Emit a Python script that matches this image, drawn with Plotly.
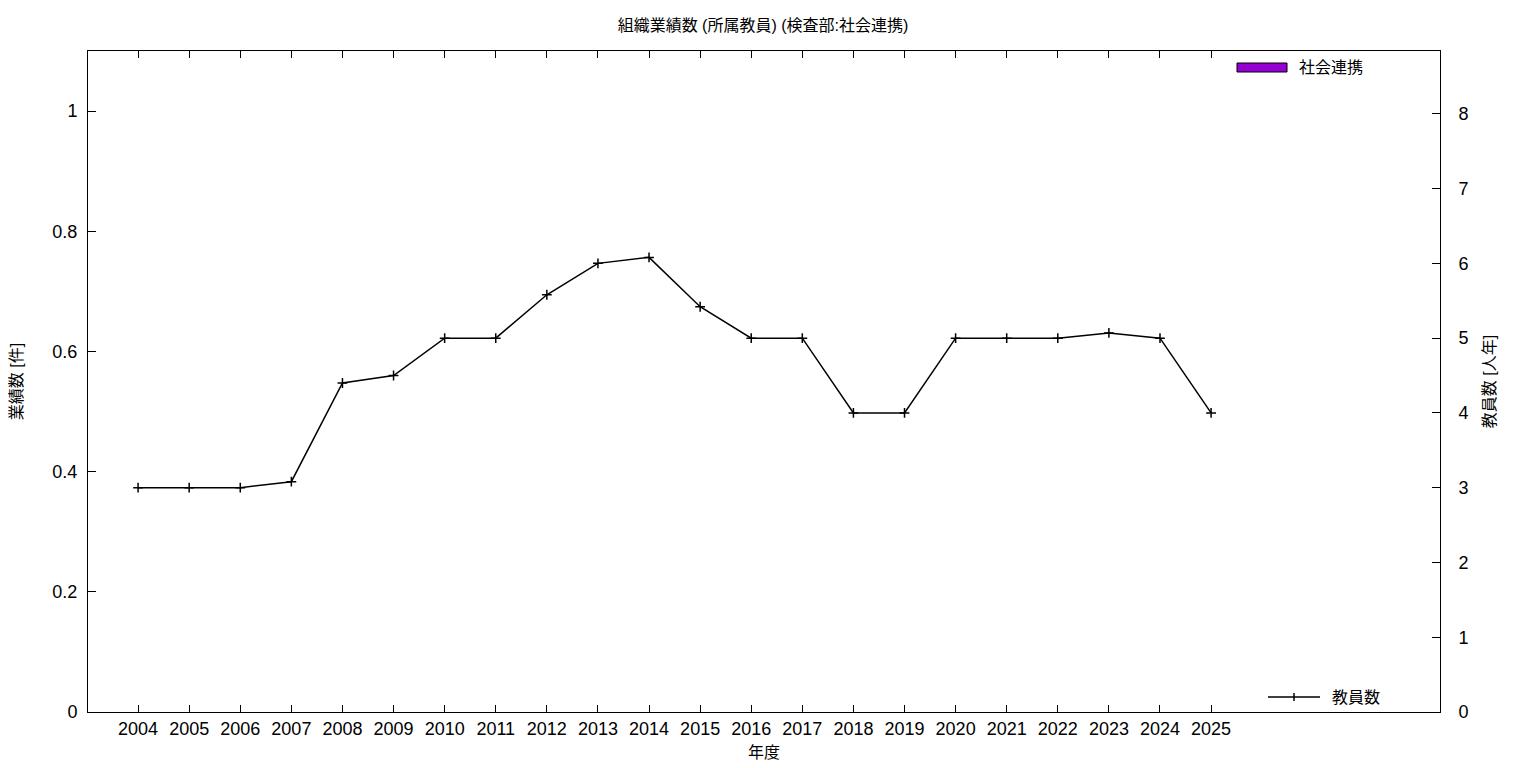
import plotly.graph_objects as go

years = list(range(2004, 2026))
faculty = [3, 3, 3, 3.08, 4.4, 4.5, 5, 5, 5.58, 6, 6.08, 5.42, 5, 5, 4, 4, 5, 5, 5, 5.07, 5, 4]
outreach = [0] * len(years)
left_ticks = [0, 0.2, 0.4, 0.6, 0.8, 1]
left_labels = ["0", "0.2", "0.4", "0.6", "0.8", "1"]
right_ticks = [0, 1, 2, 3, 4, 5, 6, 7, 8]

FONT = "Liberation Sans, Noto Sans CJK JP, sans-serif"

fig = go.Figure()
fig.add_trace(go.Bar(x=years, y=outreach, name="社会連携", marker=dict(color="#9400D3", line=dict(width=0)),
                     showlegend=False, yaxis="y"))
fig.add_trace(go.Scatter(x=years, y=faculty, name="教員数", mode="lines+markers", yaxis="y2",
                         line=dict(color="black", width=1.5),
                         marker=dict(symbol="cross-thin-open", size=7, line=dict(color="black", width=1.5)),
                         showlegend=False))

fig.update_layout(
    width=1528, height=760,
    margin=dict(l=80, r=96, t=43, b=56, autoexpand=False),
    paper_bgcolor="white", plot_bgcolor="white",
    font=dict(family=FONT, color="black", size=18),
    title=dict(text="組織業績数 (所属教員) (検査部:社会連携)", x=(763-8)/1528, xanchor="center",
               y=1-17/760, yanchor="middle", font=dict(size=16, family=FONT)),
    xaxis=dict(range=[2003.02, 2029.48], tickmode="array", tickvals=years, ticktext=[str(y) for y in years],
               ticks="inside", ticklen=7, tickcolor="black", showline=True, linecolor="black", linewidth=1,
               mirror="ticks", showgrid=False, zeroline=False, automargin=False,
               title=dict(text="年度", font=dict(size=16), standoff=9)),
    yaxis=dict(range=[0, 1.1], tickmode="array", tickvals=left_ticks, ticktext=left_labels,
               ticks="inside", ticklen=8, tickcolor="black", showline=True, linecolor="black", linewidth=1,
               showgrid=False, zeroline=False, automargin=False, ticklabelstandoff=6,
               title=dict(text="業績数 [件]", font=dict(size=16), standoff=28)),
    yaxis2=dict(range=[0, 8.84], overlaying="y", side="right", tickmode="array", tickvals=right_ticks,
                ticks="inside", ticklen=8, tickcolor="black", showline=True, linecolor="black", linewidth=1,
                showgrid=False, zeroline=False, automargin=False, ticklabelstandoff=14,
                title=dict(text="教員数 [人年]", font=dict(size=16), standoff=16)),
    showlegend=False,
)

# Legend keys (gnuplot style)
fig.add_shape(type="rect", xref="paper", yref="paper", x0=(1237-88)/1352, x1=(1287-88)/1352,
              y0=(712-72)/661, y1=(712-63)/661, fillcolor="#9400D3", line=dict(color="black", width=1))
fig.add_annotation(xref="paper", yref="paper", x=(1297-88)/1352, y=(712-67)/661, text="社会連携",
                   showarrow=False, xanchor="left", yanchor="middle", font=dict(size=16))
fig.add_shape(type="line", xref="paper", yref="paper", x0=(1268-88)/1352, x1=(1320-88)/1352,
              y0=(712-697)/661, y1=(712-697)/661, line=dict(color="black", width=1.5))
fig.add_shape(type="line", xref="paper", yref="paper", x0=(1294-88)/1352, x1=(1294-88)/1352,
              y0=(712-701)/661, y1=(712-693)/661, line=dict(color="black", width=1.5))
fig.add_annotation(xref="paper", yref="paper", x=(1330-88)/1352, y=(712-697)/661, text="教員数",
                   showarrow=False, xanchor="left", yanchor="middle", font=dict(size=16))

fig.write_html("out.html")
